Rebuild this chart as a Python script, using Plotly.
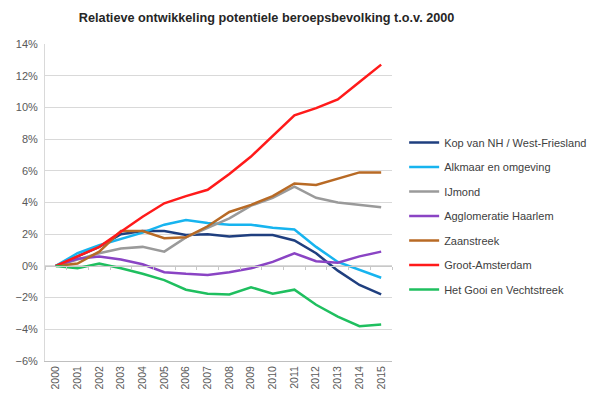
import plotly.graph_objects as go

years = [str(y) for y in range(2000, 2016)]

kop_van_nh = [0, 0.6, 1.2, 2.0, 2.2, 2.2, 1.95, 2.0, 1.85, 1.95, 1.95, 1.6, 0.8, -0.3, -1.2, -1.8]
alkmaar = [0, 0.8, 1.3, 1.7, 2.1, 2.6, 2.9, 2.7, 2.6, 2.6, 2.4, 2.3, 1.2, 0.25, -0.25, -0.75]
ijmond = [0, 0.4, 0.8, 1.1, 1.2, 0.9, 1.8, 2.4, 3.0, 3.8, 4.3, 5.0, 4.3, 4.0, 3.85, 3.7]
haarlem = [0, 0.45, 0.6, 0.4, 0.1, -0.4, -0.5, -0.57, -0.4, -0.15, 0.25, 0.8, 0.3, 0.2, 0.6, 0.9]
zaanstreek = [0, 0.15, 0.9, 2.2, 2.2, 1.75, 1.8, 2.5, 3.4, 3.85, 4.4, 5.2, 5.1, 5.5, 5.9, 5.9]
amsterdam = [0, 0.6, 1.2, 2.15, 3.1, 3.95, 4.4, 4.8, 5.8, 6.9, 8.2, 9.5, 9.95, 10.5, 11.6, 12.7]
gooi = [0, -0.15, 0.15, -0.15, -0.5, -0.9, -1.5, -1.75, -1.8, -1.35, -1.75, -1.5, -2.45, -3.2, -3.8, -3.7]

series = [
    ("Kop van NH / West-Friesland", kop_van_nh, "#1f3f7f"),
    ("Alkmaar en omgeving", alkmaar, "#17b4ef"),
    ("IJmond", ijmond, "#9a9a9a"),
    ("Agglomeratie Haarlem", haarlem, "#8a44c4"),
    ("Zaanstreek", zaanstreek, "#b86a25"),
    ("Groot-Amsterdam", amsterdam, "#ff1a1a"),
    ("Het Gooi en Vechtstreek", gooi, "#1fbf5f"),
]

fig = go.Figure()
for i, (name, vals, color) in enumerate(series):
    fig.add_trace(go.Scatter(
        x=years, y=[v / 100 for v in vals], mode="lines", name=name,
        line=dict(color=color, width=2.5), legendgroup=str(i),
    ))

# axis line with tick marks at 0%
fig.add_trace(go.Scatter(x=[-0.5, 15.5], y=[0, 0], xaxis="x2", mode="lines",
                         line=dict(width=0), showlegend=False, hoverinfo="skip"))

font = "Liberation Sans"
fig.update_layout(
    width=606, height=401,
    margin=dict(l=45, r=214, t=44, b=40),
    paper_bgcolor="white", plot_bgcolor="white",
    font=dict(family=font, size=10, color="#595959"),
    title=dict(text="<b>Relatieve ontwikkeling potentiele beroepsbevolking t.o.v. 2000</b>",
               x=0.44, xref="container", xanchor="center", y=0.955, yanchor="middle",
               font=dict(size=12.7, color="#262626", family=font)),
    xaxis=dict(type="category", showgrid=False, showline=True, linecolor="#bfbfbf",
               linewidth=1, ticks="", tickangle=-90, range=[-0.5, 15.5],
               tickfont=dict(size=10.5, color="#595959")),
    xaxis2=dict(overlaying="x", anchor="free", position=0.3, range=[-0.5, 15.5],
                showgrid=False, showline=True, linecolor="#c8c8c8", linewidth=1,
                ticks="outside", ticklen=3, tickcolor="#c8c8c8", tick0=-0.5, dtick=1,
                showticklabels=False, zeroline=False),
    yaxis=dict(range=[-0.06, 0.14], dtick=0.02, tickformat=".0%", showgrid=True,
               gridcolor="#d9d9d9", gridwidth=1, zeroline=False, showline=True,
               linecolor="#d9d9d9", ticks="", ticklabelstandoff=4,
               tickfont=dict(size=11, color="#595959")),
    legend=dict(x=1.035, y=0.735, xanchor="left", yanchor="top",
                font=dict(size=11, color="#404040"), tracegroupgap=5.5,
                itemwidth=30, bgcolor="rgba(0,0,0,0)"),
    showlegend=True,
)

fig.write_html("out.html", config={"displayModeBar": False},
               post_script="document.body.style.margin='0';")
